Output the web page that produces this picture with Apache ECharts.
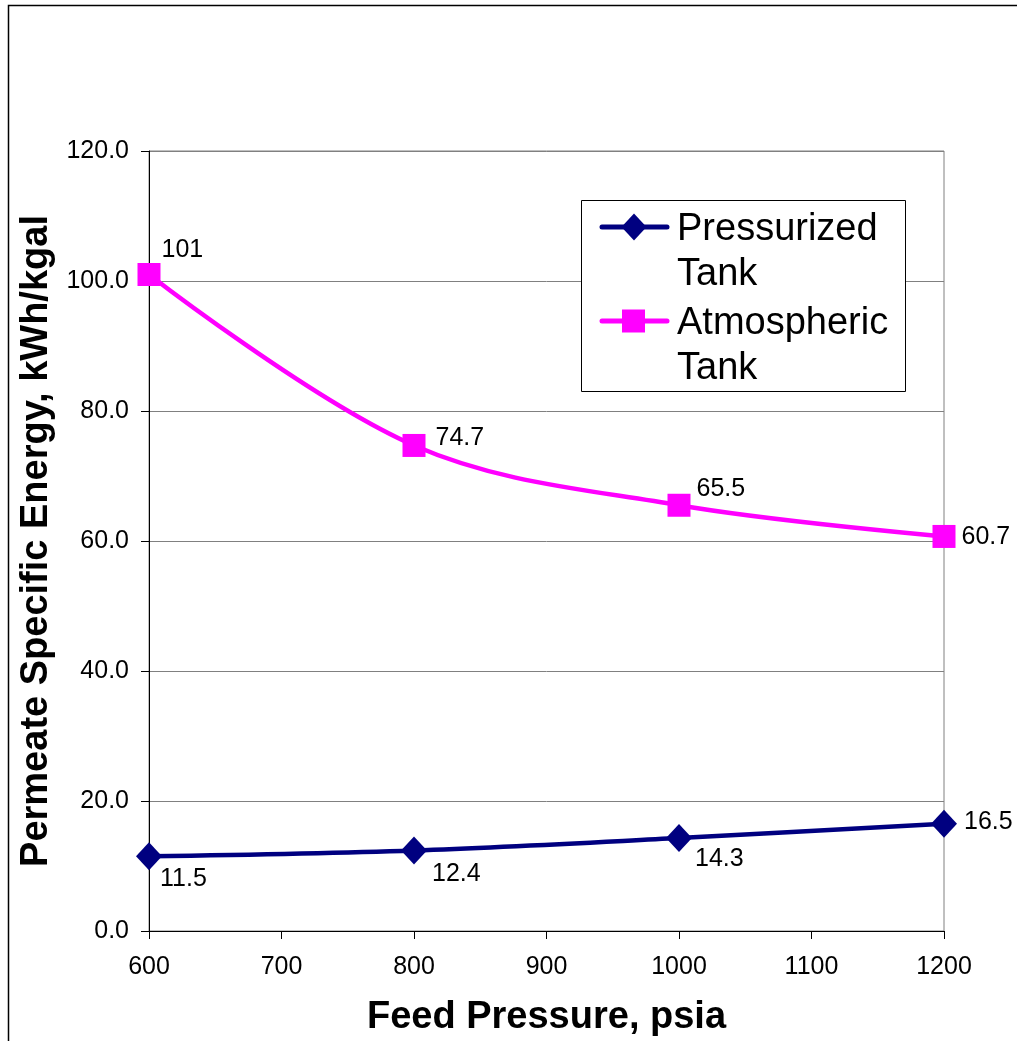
<!DOCTYPE html>
<html>
<head>
<meta charset="utf-8">
<script src="https://cdn.jsdelivr.net/npm/echarts@6/dist/echarts.min.js"></script>
<style>
html,body{margin:0;padding:0;background:#fff;}
#chart{width:1017px;height:1041px;}
</style>
</head>
<body>
<div id="chart"></div>
<script>
// ---- data ----
var feedPressure = [600, 800, 1000, 1200];
var pressurizedTank = [11.5, 12.4, 14.3, 16.5];
var atmosphericTank = [101, 74.7, 65.5, 60.7];
var pressurizedLabels = ['11.5', '12.4', '14.3', '16.5'];
var atmosphericLabels = ['101', '74.7', '65.5', '60.7'];
var seriesNames = ['Pressurized Tank', 'Atmospheric Tank'];
var xAxisTitle = 'Feed Pressure, psia';
var yAxisTitle = 'Permeate Specific Energy, kWh/kgal';

// ---- label placement (style) ----
var pressurizedLabelOffsets = [[-7, 23], [0, 24], [-2, 21], [2, -2]];
var atmosphericLabelOffsets = [[-4, -24], [5, -7], [1, -16], [1, 1]];

var FONT = "'Liberation Sans', Arial, sans-serif";

function buildData(xs, ys, labels, offsets) {
  return xs.map(function (x, i) {
    return {
      value: [x, ys[i]],
      label: { offset: offsets[i], formatter: labels[i] }
    };
  });
}

var chart = echarts.init(document.getElementById('chart'), null, { renderer: 'canvas' });

var navy = '#000080';
var magenta = '#FF00FF';

var option = {
  animation: false,
  backgroundColor: '#ffffff',
  textStyle: { fontFamily: FONT },
  grid: {
    left: 149, right: 73, top: 151, bottom: 110,
    outerBoundsMode: 'none', containLabel: false,
    show: true, borderColor: '#808080', borderWidth: 1, backgroundColor: 'transparent'
  },
  xAxis: {
    type: 'value', min: 600, max: 1200, interval: 100,
    name: xAxisTitle, nameLocation: 'middle', nameGap: 68,
    nameTextStyle: { fontFamily: FONT, fontSize: 38, fontWeight: 'bold', color: '#000' },
    axisLine: { show: true, onZero: false, lineStyle: { color: '#000', width: 1 } },
    axisTick: { show: true, inside: false, length: 8, lineStyle: { color: '#000' } },
    axisLabel: { fontFamily: FONT, fontSize: 25, color: '#000', margin: 24,
      formatter: function (v) { return String(v); } },
    splitLine: { show: false }
  },
  yAxis: {
    type: 'value', min: 0, max: 120, interval: 20,
    name: yAxisTitle, nameLocation: 'middle', nameGap: 85, nameRotate: 90,
    nameTextStyle: { fontFamily: FONT, fontSize: 38, fontWeight: 'bold', color: '#000' },
    axisLine: { show: true, lineStyle: { color: '#000', width: 1 } },
    axisTick: { show: true, inside: false, length: 8, lineStyle: { color: '#000' } },
    axisLabel: {
      fontFamily: FONT, fontSize: 25, color: '#000', margin: 20,
      formatter: function (v) { return v.toFixed(1); }
    },
    splitLine: { show: true, lineStyle: { color: '#808080', width: 1 } }
  },
  series: [
    {
      name: seriesNames[0], type: 'line', smooth: 0.35, clip: false,
      data: buildData(feedPressure, pressurizedTank, pressurizedLabels, pressurizedLabelOffsets),
      lineStyle: { color: navy, width: 4.5 },
      itemStyle: { color: navy },
      symbol: 'diamond', symbolSize: [26, 28],
      label: { show: true, position: 'right', distance: 5, fontFamily: FONT, fontSize: 25, color: '#000' },
      z: 3
    },
    {
      name: seriesNames[1], type: 'line', smooth: 0.35, clip: false,
      data: buildData(feedPressure, atmosphericTank, atmosphericLabels, atmosphericLabelOffsets),
      lineStyle: { color: magenta, width: 4.5 },
      itemStyle: { color: magenta },
      symbol: 'rect', symbolSize: 23,
      label: { show: true, position: 'right', distance: 5, fontFamily: FONT, fontSize: 25, color: '#000' },
      z: 3
    }
  ],
  graphic: [
    // outer chart border
    { type: 'rect', shape: { x: 8.5, y: 5.5, width: 1100, height: 1100 },
      style: { fill: 'none', stroke: '#000', lineWidth: 1.5 }, z: 0, silent: true },
    // legend box
    { type: 'rect', shape: { x: 581.5, y: 200.5, width: 324, height: 191 },
      style: { fill: '#fff', stroke: '#000', lineWidth: 1 }, z: 10 },
    { type: 'line', shape: { x1: 602, y1: 227, x2: 667, y2: 227 },
      style: { stroke: navy, lineWidth: 5, lineCap: 'round' }, z: 11 },
    { type: 'polygon', shape: { points: [[634, 213.5], [646.5, 227], [634, 240.5], [621.5, 227]] },
      style: { fill: navy }, z: 12 },
    { type: 'text', x: 677, y: 207.5, z: 12,
      style: { text: 'Pressurized\nTank', font: '38px ' + FONT, fill: '#000', verticalAlign: 'top', lineHeight: 45 } },
    { type: 'line', shape: { x1: 602, y1: 321, x2: 667, y2: 321 },
      style: { stroke: magenta, lineWidth: 5, lineCap: 'round' }, z: 11 },
    { type: 'rect', shape: { x: 622, y: 309.5, width: 23, height: 23 },
      style: { fill: magenta }, z: 12 },
    { type: 'text', x: 677, y: 301.5, z: 12,
      style: { text: 'Atmospheric\nTank', font: '38px ' + FONT, fill: '#000', verticalAlign: 'top', lineHeight: 45 } }
  ]
};

chart.setOption(option);
</script>
</body>
</html>
